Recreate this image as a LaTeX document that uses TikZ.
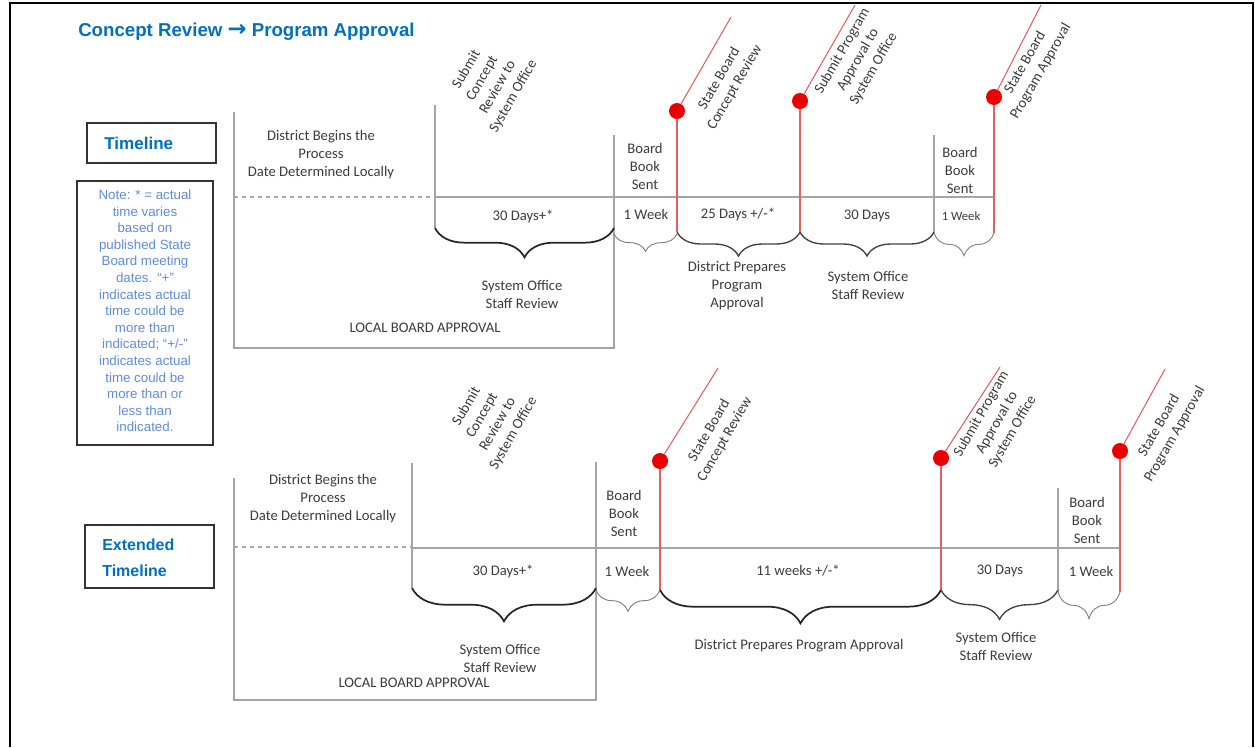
\documentclass[tikz,border=0pt]{standalone}
\usepackage{fontspec}
\setmainfont{Carlito}
\newfontfamily\arialfont{Liberation Sans}
\newfontfamily\symbolfont{DejaVu Sans}
\usetikzlibrary{decorations.pathreplacing}

\definecolor{titleblue}{RGB}{0,112,192}
\definecolor{noteblue}{RGB}{95,140,220}
\definecolor{txtgray}{RGB}{60,60,60}
\definecolor{linegray}{RGB}{165,165,165}
\definecolor{dotred}{RGB}{235,0,0}
\definecolor{redline}{RGB}{230,95,95}

\tikzset{
  lbl/.style={text=txtgray, align=center, inner sep=0pt, font=\fontsize{11pt}{13.5pt}\selectfont},
  rot/.style={lbl, rotate=60},
  tag/.style={text=titleblue, align=left, inner sep=0pt, font=\arialfont\bfseries\fontsize{12pt}{19.5pt}\selectfont},
  gline/.style={draw=linegray, line width=0.9pt},
  rline/.style={draw=redline, line width=0.8pt},
  milestone/.style={circle, fill=dotred, minimum size=12pt, inner sep=0pt},
  bigbrace/.style={decorate, decoration={brace, mirror, amplitude=#1}, line width=1.3pt, draw=black!85},
  midbrace/.style={decorate, decoration={brace, mirror, amplitude=#1}, line width=1pt, draw=black!75},
  thinbrace/.style={decorate, decoration={brace, mirror, amplitude=#1}, line width=0.7pt, draw=black!50}
}

\begin{document}
\begin{tikzpicture}[x=0.75pt,y=-0.75pt]
\useasboundingbox (0,0) rectangle (1255,747);
\draw[line width=1.5pt] (10,747) -- (10,3) -- (1253,3) -- (1253,747);

\node[anchor=west, inner sep=0pt, text=titleblue, font=\arialfont\bfseries\fontsize{14pt}{16pt}\selectfont] (title) at (78,32) {Concept Review {\symbolfont\fontsize{17pt}{16pt}\selectfont→} Program Approval};

% side boxes
\draw[black!80, line width=0.8pt] (87,123) rectangle (216,163);
\node[tag, anchor=west, font=\arialfont\bfseries\fontsize{12.8pt}{19.5pt}\selectfont] (tl) at (104,143) {Timeline};
\draw[black!80, line width=0.8pt] (77,181) rectangle (213,445);
\node[align=center, inner sep=0pt, text=noteblue, font=\arialfont\fontsize{10pt}{12.45pt}\selectfont] (note) at (145,311)
  {Note: * = actual\\time varies\\based on\\published State\\Board meeting\\dates. “+”\\indicates actual\\time could be\\more than\\indicated; “+/-”\\indicates actual\\time could be\\more than or\\less than\\indicated.};
\draw[black!80, line width=0.8pt] (85,525) rectangle (214,588);
\node[tag, anchor=west] (ext) at (102,558) {Extended\\Timeline};

% top timeline
\draw[gline] (234,112) -- (234,348) -- (614,348) -- (614,135);
\draw[gline, dashed] (234,197) -- (435,197);
\draw[gline] (435,197) -- (994,197);
\draw[gline] (435,105) -- (435,228);
\draw[gline] (934,135) -- (934,233);

\node[milestone] (scr) at (677,111) {};
\node[milestone] (spa) at (800,101) {};
\node[milestone] (sba) at (994,97) {};
\coordinate (scr-top) at (731,17);
\coordinate (spa-top) at (855,5);
\coordinate (sba-top) at (1041,5);
\coordinate (scr-bot) at (677,232);
\coordinate (spa-bot) at (800,232);
\coordinate (sba-bot) at (994,233);
\draw[rline] (scr) -- (scr-top);
\draw[rline] (spa) -- (spa-top);
\draw[rline] (sba) -- (sba-top);
\draw[rline] (scr) -- (scr-bot);
\draw[rline] (spa) -- (spa-bot);
\draw[rline] (sba) -- (sba-bot);

\draw[bigbrace=22pt] (435,228) -- (614,228);
\draw[thinbrace=13pt] (614,234) -- (677,234);
\draw[midbrace=18pt] (677,232) -- (800,232);
\draw[midbrace=18pt] (800,232) -- (934,232);
\draw[thinbrace=17pt] (934,233) -- (994,233);

\node[rot] (sub1) at (490,83) {Submit\\Concept\\Review to\\System Office};
\node[rot] (scrl) at (727,83) {State Board\\Concept Review};
\node[rot] (spal) at (858,60) {Submit Program\\Approval to\\System Office};
\node[rot] (sbal) at (1033,67) {State Board\\Program Approval};

\node[lbl] (dbp1) at (321,155) {District Begins the\\Process\\Date Determined Locally};
\node[lbl] (bbs1) at (645,166) {Board\\Book\\Sent};
\node[lbl] (bbs2) at (960,170) {Board\\Book\\Sent};
\node[lbl] (d1) at (523,216) {30 Days+*};
\node[lbl] (d2) at (646,214) {1 Week};
\node[lbl] (d3) at (738,214) {25 Days +/-*};
\node[lbl] (d4) at (867,216) {30 Days};
\node[lbl, font=\fontsize{9.5pt}{11pt}\selectfont] (d5) at (961,216) {1 Week};
\node[lbl] (sr1) at (522,294) {System Office\\Staff Review};
\node[lbl] (dpp1) at (737,286) {District Prepares\\Program\\Approval};
\node[lbl] (sr2) at (868,285) {System Office\\Staff Review};
\node[lbl] (lba1) at (425,328) {LOCAL BOARD APPROVAL};

% extended timeline
\draw[gline] (234,478) -- (234,700) -- (596,700) -- (596,462);
\draw[gline, dashed] (234,547) -- (412,547);
\draw[gline] (412,548) -- (1120,548);
\draw[gline] (412,463) -- (412,588);
\draw[gline] (1058,488) -- (1058,592);

\node[milestone] (xscr) at (660,461) {};
\node[milestone] (xspa) at (941,458) {};
\node[milestone] (xsba) at (1120,451) {};
\coordinate (xscr-top) at (718,368);
\coordinate (xspa-top) at (1000,367);
\coordinate (xsba-top) at (1165,369);
\coordinate (xscr-bot) at (660,590);
\coordinate (xspa-bot) at (941,590);
\coordinate (xsba-bot) at (1120,592);
\draw[rline] (xscr) -- (xscr-top);
\draw[rline] (xspa) -- (xspa-top);
\draw[rline] (xsba) -- (xsba-top);
\draw[rline] (xscr) -- (xscr-bot);
\draw[rline] (xspa) -- (xspa-bot);
\draw[rline] (xsba) -- (xsba-bot);

\draw[bigbrace=25pt] (412,588) -- (596,588);
\draw[thinbrace=16pt] (596,590) -- (660,590);
\draw[bigbrace=25pt] (660,590) -- (941,590);
\draw[midbrace=22pt] (941,590) -- (1058,590);
\draw[thinbrace=20pt] (1058,592) -- (1120,592);

\node[rot] (sub2) at (490,420) {Submit\\Concept\\Review to\\System Office};
\node[rot] (xscrl) at (717,435) {State Board\\Concept Review};
\node[rot] (xspal) at (997,423) {Submit Program\\Approval to\\System Office};
\node[rot] (xsbal) at (1167,430) {State Board\\Program Approval};

\node[lbl] (dbp2) at (323,499) {District Begins the\\Process\\Date Determined Locally};
\node[lbl] (bbs3) at (624,513) {Board\\Book\\Sent};
\node[lbl] (bbs4) at (1087,520) {Board\\Book\\Sent};
\node[lbl] (d6) at (503,571) {30 Days+*};
\node[lbl] (d7) at (627,571) {1 Week};
\node[lbl] (d8) at (798,571) {11 weeks +/-*};
\node[lbl] (d9) at (1000,571) {30 Days};
\node[lbl] (d10) at (1091,571) {1 Week};
\node[lbl] (sr3) at (500,658) {System Office\\Staff Review};
\node[lbl] (lba2) at (414,683) {LOCAL BOARD APPROVAL};
\node[lbl] (dpp2) at (799,646) {District Prepares Program Approval};
\node[lbl] (sr4) at (996,646) {System Office\\Staff Review};
\end{tikzpicture}
\end{document}
